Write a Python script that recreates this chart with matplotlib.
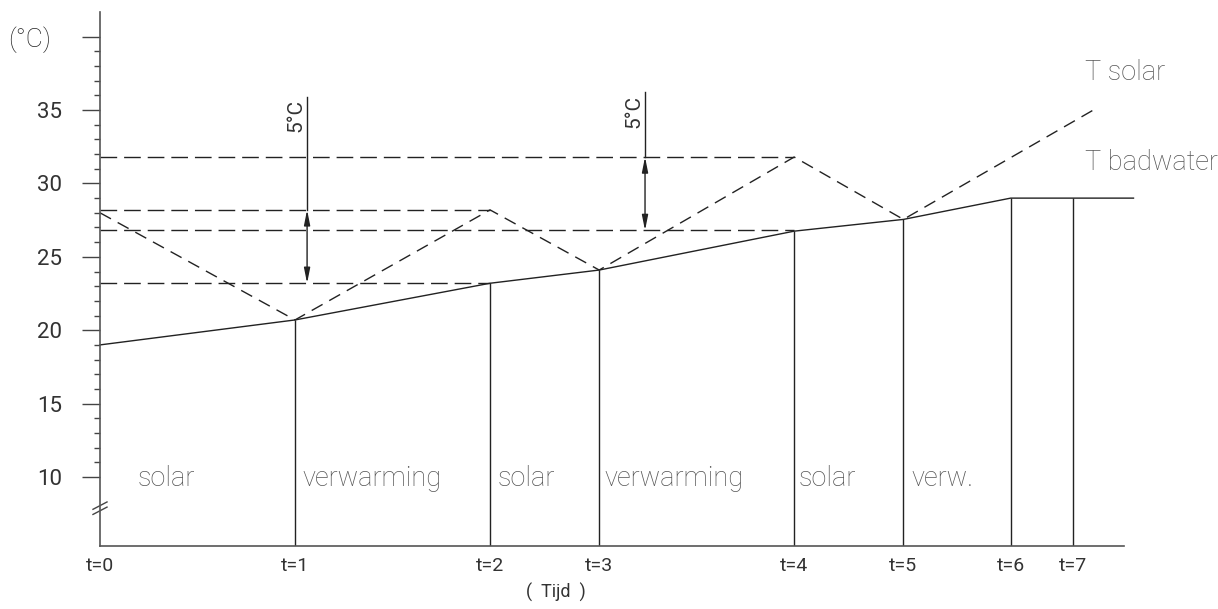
import matplotlib.pyplot as plt

plt.rcParams['font.family'] = ['Roboto', 'DejaVu Sans']

# time moments (horizontal position, one unit = t0..t1 spacing)
t_labels = ['t=0', 't=1', 't=2', 't=3', 't=4', 't=5', 't=6', 't=7']
t_pos = [0.0, 1.0, 2.0, 2.56, 3.56, 4.12, 4.67, 4.99]

# bath water temperature at each moment (°C), plus end of line
t_bad = [19.0, 20.7, 23.2, 24.1, 26.75, 27.55, 29.0, 29.0]
bad_end_x = 5.30
bad_end_T = 29.0

# solar temperature at t0..t5, then rising tail
t_sol = [28.0, 20.7, 28.2, 24.1, 31.8, 27.55]
sol_end_x = 5.12
sol_end_T = 35.2

# dashed reference levels (value, end time)
ref_levels = [31.8, 28.2, 26.8, 23.2]
ref_ends = [3.56, 2.0, 3.56, 2.0]

# 5°C dimension arrows: x, lower, upper, top of extension line
dim_x = [1.062, 2.795]
dim_low = [23.2, 26.8]
dim_high = [28.2, 31.8]
dim_top = [35.87, 36.2]
dim_text_T = [34.6, 34.9]

# phase labels
phase_names = ['solar', 'verwarming', 'solar', 'verwarming', 'solar', 'verw.']
phase_x = [0.195, 1.036, 2.04, 2.585, 3.58, 4.16]

ink = '#222222'
grey_txt = '#555555'

fig = plt.figure(figsize=(12.18, 6.09), dpi=100)
ax = fig.add_axes([100 / 1218, 63 / 609, 1024 / 1218, 534 / 609])
ax.set_xlim(0, 1024 / 195)
ax.set_ylim(5.30, 41.68)

for s in ['top', 'right']:
    ax.spines[s].set_visible(False)
for s in ['left', 'bottom']:
    ax.spines[s].set_color('#555555')
    ax.spines[s].set_linewidth(1.2)

# y ticks
ax.set_yticks([10, 15, 20, 25, 30, 35, 40])
ax.set_yticklabels(['10', '15', '20', '25', '30', '35', ''])
ax.set_yticks(list(range(11, 40)), minor=True)
ax.tick_params(axis='y', which='major', length=13, width=1, color='#444444',
               pad=14, labelsize=16, labelcolor='#333333')
ax.tick_params(axis='y', which='minor', length=4.3, width=1, color='#444444')

# x ticks (labels only)
ax.set_xticks(t_pos)
ax.set_xticklabels(t_labels)
ax.tick_params(axis='x', length=0, pad=8, labelsize=14, labelcolor='#333333')

# bath water line
ax.plot(t_pos + [bad_end_x], t_bad + [bad_end_T], color=ink, lw=1, clip_on=False)

# vertical separators
ax.vlines(t_pos[1:], 5.30, t_bad[1:], color=ink, lw=1)

# solar line
ax.plot(t_pos[:6] + [sol_end_x], t_sol + [sol_end_T], color=ink, lw=1,
        dashes=(9, 5.5))

# reference dashed levels
for lvl, xe in zip(ref_levels, ref_ends):
    ax.plot([0, xe], [lvl, lvl], color=ink, lw=1, dashes=(12, 5))

# dimension arrows
for x, lo, hi, top, tt in zip(dim_x, dim_low, dim_high, dim_top, dim_text_T):
    ax.plot([x, x], [hi, top], color=ink, lw=1)
    ax.annotate('', xy=(x, hi), xytext=(x, lo),
                arrowprops=dict(arrowstyle='<|-|>,head_length=0.9,head_width=0.18',
                                color=ink, lw=1, shrinkA=0, shrinkB=0))
    ax.text(x - 0.01, tt, '5°C', rotation=90, ha='right', va='center',
            fontsize=15, color='#333333')

# phase labels
for name, x in zip(phase_names, phase_x):
    ax.text(x, 9.9, name, ha='left', va='center', fontsize=19.5,
            fontweight='light', color=grey_txt)

# series labels
ax.text(5.05, 37.57, 'T solar', ha='left', va='center', fontsize=19.5,
        fontweight='light', color=grey_txt, clip_on=False)
ax.text(5.05, 31.44, 'T badwater', ha='left', va='center', fontsize=19.5,
        fontweight='light', color=grey_txt, clip_on=False)

# axis break marks
for dy in (0.0, 0.35):
    ax.plot([-0.036, 0.036], [7.45 + dy, 7.95 + dy], color='#444444', lw=1,
            clip_on=False)

fig.text(8 / 1218, 1 - 40 / 609, '(°C)', ha='left', va='center', fontsize=19,
         fontweight='light', color='#222222')
fig.text(556 / 1218, 1 - 592 / 609, '(  Tijd  )', ha='center', va='center',
         fontsize=13, color='#333333')

fig.savefig('out.png', dpi=100)
